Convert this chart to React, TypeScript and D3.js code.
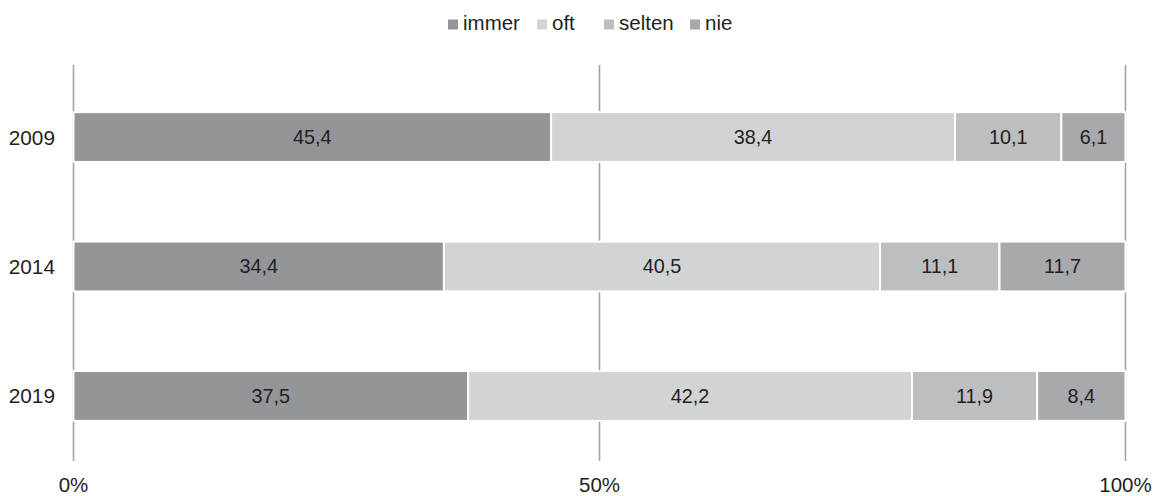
import React from "react";
import * as d3 from "d3";

const years = ["2009", "2014", "2019"];
const seriesNames = ["immer", "oft", "selten", "nie"];
const immer = [45.4, 34.4, 37.5];
const oft = [38.4, 40.5, 42.2];
const selten = [10.1, 11.1, 11.9];
const nie = [6.1, 11.7, 8.4];
const xTicks = [0, 0.5, 1];
const colors = ["#939598", "#d1d3d4", "#bcbec0", "#a7a9ac"];
const legendX = [448, 537, 604, 690];

const W = 1153, H = 496;
const FONT = "'Liberation Sans', Arial, sans-serif";

export default function App() {
  const rows = years.map((y, i) => {
    const vals = [immer[i], oft[i], selten[i], nie[i]];
    const row: any = { year: y };
    seriesNames.forEach((s, j) => (row[s] = vals[j]));
    return row;
  });
  const stack = d3.stack<any>().keys(seriesNames).offset(d3.stackOffsetExpand);
  const series = stack(rows);
  const x = d3.scaleLinear().domain([0, 1]).range([73.5, 1125.5]);
  const y = d3.scaleBand().domain(years).range([72, 461]).paddingInner(0.615).paddingOuter(0.31);
  const fmt = (v: number) => v.toFixed(1).replace(".", ",");

  return (
    <svg width={W} height={H} style={{ position: "absolute", left: 0, top: 0, background: "#fff" }} fontFamily={FONT}>
      {xTicks.map((t) => (
        <g key={t}>
          <line x1={x(t)} x2={x(t)} y1={65} y2={461} stroke="#a3a3a3" strokeWidth={1.6} />
          <text x={x(t)} y={492} textAnchor="middle" fontSize={20.5} fill="#231f20">
            {d3.format(".0%")(t)}
          </text>
        </g>
      ))}
      {series.map((s, si) => (
        <g key={s.key}>
          {s.map((d, i) => {
            const yy = y(years[i])!;
            const x0 = x(d[0]), x1 = x(d[1]);
            const raw = (d.data as any)[s.key] as number;
            return (
              <g key={i}>
                <rect x={x0} y={yy} width={x1 - x0} height={y.bandwidth()} fill={colors[si]} stroke="#fff" strokeWidth={2} />
                <text x={(x0 + x1) / 2} y={yy + y.bandwidth() / 2} dy="0.35em" textAnchor="middle" fontSize={19.8} fill="#231f20">
                  {fmt(raw)}
                </text>
              </g>
            );
          })}
        </g>
      ))}
      {years.map((yr) => (
        <text key={yr} x={55} y={y(yr)! + y.bandwidth() / 2} dy="0.36em" textAnchor="end" fontSize={20.8} fill="#231f20">
          {yr}
        </text>
      ))}
      {seriesNames.map((s, i) => (
        <g key={s}>
          <rect x={legendX[i]} y={19.5} width={10} height={10} fill={colors[i]} />
          <text x={legendX[i] + 15} y={30} fontSize={20.5} fill="#231f20">
            {s}
          </text>
        </g>
      ))}
    </svg>
  );
}
